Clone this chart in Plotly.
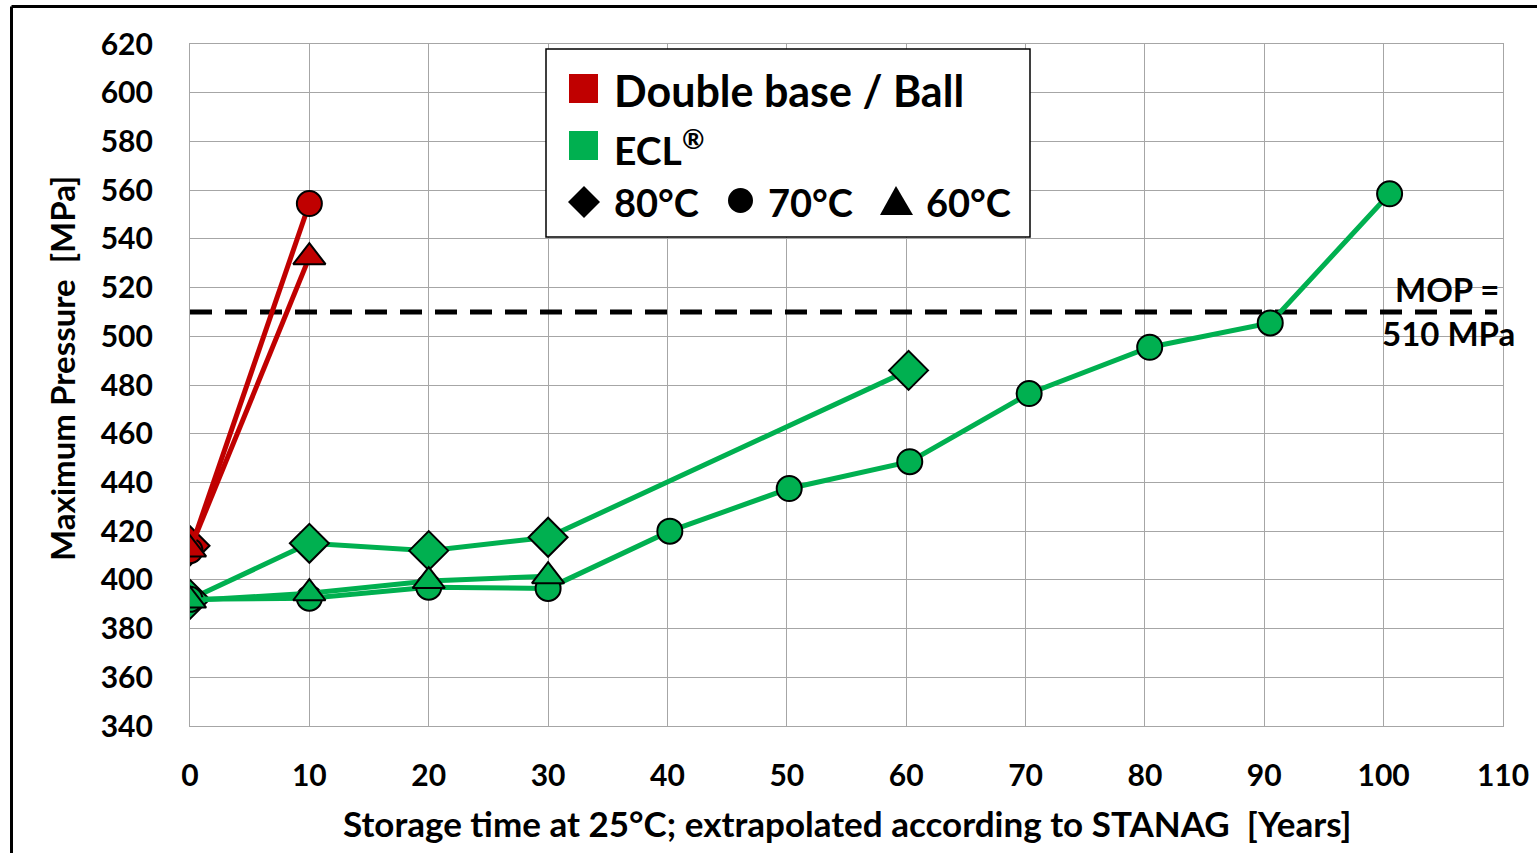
import plotly.graph_objects as go

# ---- data ----
db_80_x = [0]
db_80_y = [414]
db_70_x = [0, 10]
db_70_y = [412, 554.5]
db_60_x = [0, 10]
db_60_y = [412.5, 532.5]

ecl_80_x = [0, 10, 20, 30, 60.2]
ecl_80_y = [392, 415, 412, 417.5, 486]
ecl_70_x = [0, 10, 20, 30, 40.2, 50.2, 60.3, 70.3, 80.4, 90.5, 100.5]
ecl_70_y = [392, 392.5, 397, 396.5, 420, 437.5, 448.5, 476.5, 495.5, 505.5, 558.5]
ecl_60_x = [0, 10, 20, 30]
ecl_60_y = [391.5, 394.5, 399.5, 401.5]

mop_x = [0, 109.5]
mop_y = [510, 510]

x_ticks = list(range(0, 111, 10))
y_ticks = list(range(340, 621, 20))

RED = "#C00000"
GREEN = "#00B050"
FONT = "Lato"

fig = go.Figure()

fig.add_trace(go.Scatter(x=mop_x, y=mop_y, mode="lines",
                         line=dict(color="black", width=5, dash="22px,13px"),
                         showlegend=False, hoverinfo="skip"))

def add(xs, ys, color, symbol, size):
    fig.add_trace(go.Scatter(
        x=xs, y=ys, mode="lines+markers",
        line=dict(color=color, width=5),
        marker=dict(symbol=symbol, size=size, color=color,
                    line=dict(color="black", width=2)),
        showlegend=False))

add(ecl_80_x, ecl_80_y, GREEN, "diamond", 30)
add(ecl_70_x, ecl_70_y, GREEN, "circle", 25)
add(ecl_60_x, ecl_60_y, GREEN, "triangle-up", 28)
add(db_80_x, db_80_y, RED, "diamond", 30)
add(db_70_x, db_70_y, RED, "circle", 25)
add(db_60_x, db_60_y, RED, "triangle-up", 28)

# plot area: x 190..1503 px, y 44..726 px
W, H = 1537, 853
L, R, T, B = 190, 1503, 44, 726
def px(xp):
    return (xp - L) / (R - L)
def py(yp):
    return (B - yp) / (B - T)

shapes = []
# outer border (left and top)
shapes.append(dict(type="line", xref="paper", yref="paper",
                   x0=px(11.5), x1=px(1545), y0=py(6.5), y1=py(6.5),
                   line=dict(color="black", width=3)))
shapes.append(dict(type="line", xref="paper", yref="paper",
                   x0=px(11.5), x1=px(11.5), y0=py(6.5), y1=py(860),
                   line=dict(color="black", width=3)))
# legend box
shapes.append(dict(type="rect", xref="paper", yref="paper",
                   x0=px(546), x1=px(1030), y0=py(237), y1=py(49),
                   fillcolor="white", line=dict(color="black", width=1.5), layer="above"))
# legend squares
shapes.append(dict(type="rect", xref="paper", yref="paper",
                   x0=px(569), x1=px(598), y0=py(103), y1=py(74),
                   fillcolor=RED, line=dict(width=0), layer="above"))
shapes.append(dict(type="rect", xref="paper", yref="paper",
                   x0=px(569), x1=px(598), y0=py(160), y1=py(131),
                   fillcolor=GREEN, line=dict(width=0), layer="above"))

def path(points):
    return "M " + " L ".join(f"{px(a):.5f},{py(b):.5f}" for a, b in points) + " Z"

# legend symbols
shapes.append(dict(type="path", xref="paper", yref="paper",
                   path=path([(584, 186), (600, 202), (584, 218), (568, 202)]),
                   fillcolor="black", line=dict(width=0), layer="above"))
shapes.append(dict(type="circle", xref="paper", yref="paper",
                   x0=px(728), x1=px(753), y0=py(213), y1=py(188),
                   fillcolor="black", line=dict(width=0), layer="above"))
shapes.append(dict(type="path", xref="paper", yref="paper",
                   path=path([(896, 186), (913, 215), (880, 215)]),
                   fillcolor="black", line=dict(width=0), layer="above"))

annotations = []
def ann(text, xp, yp, size, xanchor="left", angle=0):
    annotations.append(dict(text=text, xref="paper", yref="paper",
                            x=px(xp), y=py(yp), xanchor=xanchor, yanchor="middle",
                            showarrow=False, textangle=angle,
                            font=dict(family=FONT, size=size, color="black", weight="bold")))

ann("Double base / Ball", 612, 90, 43)
ann("ECL<sup>®</sup>", 612, 147, 39)
ann("80°C", 612, 202, 38)
ann("70°C", 766, 202, 38)
ann("60°C", 924, 202, 38)
ann("MOP =", 1502, 289, 33, "right")
ann("510 MPa", 1517, 333, 33, "right")
ann("Maximum Pressure  [MPa]", 62, 369, 33, "center", -90)
ann("Storage time at 25°C; extrapolated according to STANAG  [Years]", 847, 823, 35, "center")

fig.update_layout(
    width=W, height=H,
    margin=dict(l=L, r=W - R, t=T, b=H - B, pad=0),
    paper_bgcolor="white", plot_bgcolor="white",
    shapes=shapes, annotations=annotations,
    font=dict(family=FONT, color="black"),
    xaxis=dict(range=[0, 110], tickvals=x_ticks, showgrid=True,
               gridcolor="#A6A6A6", gridwidth=1.2, zeroline=False,
               showline=True, linecolor="#A6A6A6", linewidth=1.2, mirror=True,
               ticks="", ticklabelstandoff=23, automargin=False,
               tickfont=dict(family=FONT, size=30, color="black", weight="bold")),
    yaxis=dict(range=[340, 620], tickvals=y_ticks, showgrid=True,
               gridcolor="#A6A6A6", gridwidth=1.2, zeroline=False,
               showline=True, linecolor="#A6A6A6", linewidth=1.2, mirror=True,
               ticks="", ticklabelstandoff=30, automargin=False,
               tickfont=dict(family=FONT, size=30, color="black", weight="bold")),
)

fig.write_html("out.html")
